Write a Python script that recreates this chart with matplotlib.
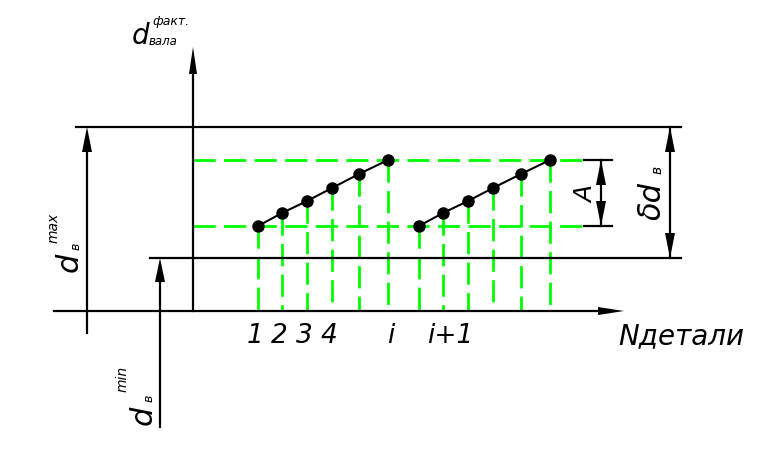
import numpy as np
import matplotlib.pyplot as plt

plt.rcParams['lines.scale_dashes'] = False

# drawing laid out in pixel units of the 766x455 sheet (y grows downward)
x_axis_y = 311
y_axis_x = 193
d_max_y = 127          # upper limit line
d_min_y = 258          # lower limit line
y_low = 226            # lower green level
y_high = 160           # upper green level

# positions of parts along N and measured diameters
series1_x = [258, 282, 307, 332, 359, 388]
series2_x = [419, 443, 468, 493, 521, 550]
series_y = [226, 213, 201, 188, 174, 160]

tick_labels = ['1', '2', '3', '4', 'i', 'i+1']
tick_x = [247, 271, 296, 321, 387, 427]

GREEN = '#00ff00'
LW = 1.6


def arrowhead(ax, tip, base, half=4.5):
    tx, ty = tip
    bx, by = base
    dx, dy = bx - tx, by - ty
    n = np.hypot(dx, dy)
    px, py = -dy / n * half, dx / n * half
    ax.fill([tx, bx + px, bx - px], [ty, by + py, by - py], color='k', lw=0, zorder=5)


def main():
    fig = plt.figure(figsize=(7.66, 4.55), dpi=100)
    ax = fig.add_axes([0, 0, 1, 1])
    ax.set_xlim(0, 766)
    ax.set_ylim(455, 0)
    ax.axis('off')

    dash = dict(color=GREEN, lw=2.0, linestyle=(0, (16, 6)), zorder=1)
    # green horizontal levels
    ax.plot([y_axis_x, 584], [y_high, y_high], **dash)
    ax.plot([y_axis_x, 584], [y_low, y_low], **dash)
    # green verticals from each point
    for x, y in zip(series1_x + series2_x, series_y + series_y):
        ax.plot([x, x], [y, x_axis_y], **dash)

    k = dict(color='k', lw=LW, zorder=3)
    # axes
    ax.plot([54, 605], [x_axis_y, x_axis_y], **k)
    arrowhead(ax, (624, x_axis_y), (598, x_axis_y), 4)
    ax.plot([y_axis_x, y_axis_x], [x_axis_y, 70], **k)
    arrowhead(ax, (y_axis_x, 47), (y_axis_x, 74), 4)
    # limit lines
    ax.plot([76, 681], [d_max_y, d_max_y], **k)
    ax.plot([150, 681], [d_min_y, d_min_y], **k)
    # d max dimension line
    ax.plot([87, 87], [140, 333], **k)
    arrowhead(ax, (87, d_max_y), (87, 152), 5)
    # d min dimension line
    ax.plot([160, 160], [275, 427], **k)
    arrowhead(ax, (160, d_min_y), (160, 282), 5)
    # delta d dimension
    ax.plot([670, 670], [d_max_y, d_min_y], **k)
    arrowhead(ax, (670, d_max_y), (670, 152), 5)
    arrowhead(ax, (670, d_min_y), (670, 233), 5)
    # A dimension
    ax.plot([584, 612], [y_high, y_high], **k)
    ax.plot([584, 612], [y_low, y_low], **k)
    ax.plot([601, 601], [y_high, y_low], **k)
    arrowhead(ax, (601, y_high), (601, 185), 5)
    arrowhead(ax, (601, y_low), (601, 201), 5)

    # measured points
    ax.plot(series1_x, series_y, color='k', lw=1.5, marker='o', ms=8, zorder=4)
    ax.plot(series2_x, series_y, color='k', lw=1.5, marker='o', ms=8, zorder=4)

    it = dict(style='italic', color='k', family='DejaVu Sans')
    for lab, x in zip(tick_labels, tick_x):
        ax.text(x, 343, lab, fontsize=19, ha='left', va='baseline', **it)
    ax.text(618, 344, 'Nдетали', fontsize=20, ha='left', va='baseline', **it)

    # top label d_вала^факт.
    ax.text(132, 44, 'd', fontsize=20, ha='left', va='baseline', **it)
    ax.text(149, 45, 'вала', fontsize=8.5, ha='left', va='baseline', **it)
    ax.text(152, 25, 'факт.', fontsize=9, ha='left', va='baseline', **it)

    # rotated labels
    ax.text(84, 272, 'd', fontsize=22, rotation=90, ha='right', va='bottom', **it)
    ax.text(83, 250, 'в', fontsize=9, rotation=90, ha='right', va='bottom', **it)
    ax.text(61, 243, 'max', fontsize=10, rotation=90, ha='right', va='bottom', **it)

    ax.text(158, 425, 'd', fontsize=22, rotation=90, ha='right', va='bottom', **it)
    ax.text(156, 402, 'в', fontsize=9, rotation=90, ha='right', va='bottom', **it)
    ax.text(130, 392, 'min', fontsize=10, rotation=90, ha='right', va='bottom', **it)

    ax.text(667, 220, 'δd', fontsize=22, rotation=90, ha='right', va='bottom', **it)
    ax.text(664, 174, 'в', fontsize=10, rotation=90, ha='right', va='bottom', **it)

    ax.text(598, 203, 'A', fontsize=18, rotation=90, ha='right', va='bottom', **it)

    fig.savefig('out.png', dpi=100)


if __name__ == '__main__':
    main()
